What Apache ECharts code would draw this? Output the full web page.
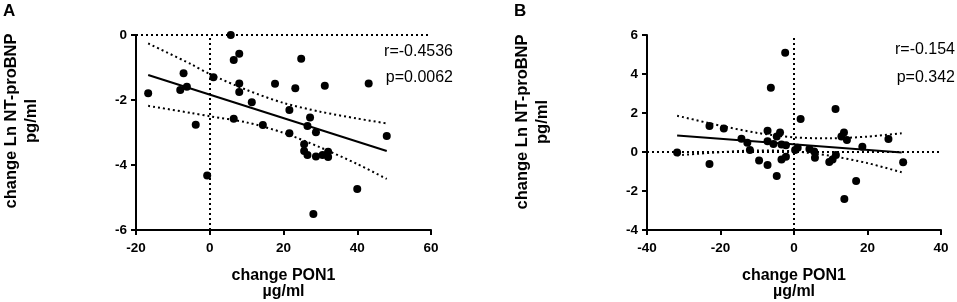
<!DOCTYPE html>
<html>
<head>
<meta charset="utf-8">
<script src="https://cdn.jsdelivr.net/npm/echarts@6/dist/echarts.min.js"></script>
<style>
  html, body { margin: 0; padding: 0; background: #fff; }
  #chart { width: 957px; height: 302px; }
</style>
</head>
<body>
<div id="chart"></div>
<script>
// panel A: change PON1 vs change Ln NT-proBNP
const pointsA = [
  [5.7, 0], [8.0, -0.58], [6.5, -0.77], [24.8, -0.73], [-7.1, -1.18], [1.0, -1.30],
  [8.0, -1.49], [17.7, -1.50], [23.2, -1.64], [31.2, -1.56], [43.1, -1.49], [-16.7, -1.79],
  [-8.0, -1.69], [-6.2, -1.59], [8.0, -1.75], [11.4, -2.07], [21.6, -2.31], [6.5, -2.58],
  [-3.8, -2.76], [14.4, -2.77], [27.2, -2.54], [26.5, -2.80], [21.6, -3.02], [28.8, -2.99],
  [48.0, -3.11], [25.6, -3.36], [25.6, -3.57], [26.5, -3.69], [28.8, -3.74], [30.6, -3.69],
  [32.1, -3.59], [32.1, -3.75], [-0.7, -4.32], [40.0, -4.74], [28.1, -5.51]
]
const fitA = [[-16.7, -1.23], [48.0, -3.57]]
const bandXA = [-16.7, -5, 0, 10, 20, 30, 40, 48]
const bandUpA = [-0.26, -0.90, -1.20, -1.69, -2.09, -2.36, -2.57, -2.72]
const bandLoA = [-2.18, -2.40, -2.50, -2.69, -3.01, -3.46, -3.97, -4.43]

// panel B
const pointsB = [
  [-2.4, 5.09], [-6.3, 3.30], [11.3, 2.21], [1.8, 1.69], [-23.0, 1.33], [-19.1, 1.20],
  [-7.2, 1.09], [-3.8, 1.0], [-4.7, 0.79], [13.6, 1.0], [12.9, 0.80], [14.4, 0.62],
  [25.7, 0.67], [-14.3, 0.68], [-12.7, 0.48], [-7.2, 0.55], [-5.6, 0.41], [-3.4, 0.38],
  [-2.2, 0.34], [-12.0, 0.10], [0.3, 0.10], [1.0, 0.22], [4.2, 0.15], [5.5, 0.02],
  [18.6, 0.27], [-31.8, -0.02], [5.7, -0.29], [11.4, -0.15], [10.5, -0.38], [9.6, -0.51],
  [-9.5, -0.44], [-3.4, -0.38], [-2.2, -0.24], [-23.0, -0.62], [-7.2, -0.67], [29.7, -0.53],
  [-4.7, -1.23], [16.9, -1.49], [13.7, -2.41]
]
const fitB = [[-31.8, 0.84], [29.3, -0.02]]
const bandXB = [-31.8, -20, -10, 0, 10, 20, 29.3]
const bandUpB = [1.86, 1.35, 0.98, 0.75, 0.70, 0.79, 0.96]
const bandLoB = [-0.17, -0.01, 0.08, 0.03, -0.20, -0.57, -1.04]

const statsA = ['r=-0.4536', 'p=0.0062']
const statsB = ['r=-0.154', 'p=0.342']

const FONT = 'Liberation Sans, Arial, sans-serif'
const zip = (xs, ys) => xs.map((x, i) => [x, ys[i]])

const chart = echarts.init(document.getElementById('chart'))

const axisCommon = {
  axisLine: { onZero: false, lineStyle: { color: '#000', width: 2 } },
  axisTick: { length: 5, lineStyle: { color: '#000', width: 2 } },
  axisLabel: { color: '#000', fontWeight: 'bold', fontSize: 13.5, fontFamily: FONT },
  splitLine: { show: false }
}

const dotted = { color: '#000', width: 2, type: [2, 3] }

const refLines = {
  silent: true, symbol: 'none', label: { show: false },
  lineStyle: dotted,
  data: [{ yAxis: 0 }, { xAxis: 0 }]
}

function panel(idx, points, fit, bx, up, lo) {
  return [
    {
      type: 'scatter', xAxisIndex: idx, yAxisIndex: idx, data: points,
      symbolSize: 8, itemStyle: { color: '#000', opacity: 1 }, z: 5,
      markLine: refLines
    },
    {
      type: 'line', xAxisIndex: idx, yAxisIndex: idx, data: fit,
      symbol: 'none', lineStyle: { color: '#000', width: 2 }
    },
    {
      type: 'line', xAxisIndex: idx, yAxisIndex: idx, data: zip(bx, up),
      symbol: 'none', smooth: 0.3, lineStyle: dotted
    },
    {
      type: 'line', xAxisIndex: idx, yAxisIndex: idx, data: zip(bx, lo),
      symbol: 'none', smooth: 0.3, lineStyle: dotted
    }
  ]
}

const xName = 'change PON1\nµg/ml'
const yName = 'change Ln NT-proBNP\npg/ml'
const nameStyle = { color: '#000', fontWeight: 'bold', fontSize: 16, fontFamily: FONT, lineHeight: 16 }

function label(text, x, y) {
  return {
    type: 'text', x, y,
    style: { text, fill: '#000', font: '16px ' + FONT, textAlign: 'right', textVerticalAlign: 'middle' }
  }
}

function yTitle(x, y) {
  return {
    type: 'text', x, y, rotation: Math.PI / 2,
    style: {
      text: yName, fill: '#000', font: 'bold 16.5px ' + FONT, lineHeight: 20,
      textAlign: 'center', textVerticalAlign: 'middle'
    }
  }
}

chart.setOption({
  animation: false,
  grid: [
    { left: 136, right: 526, top: 35, bottom: 72, outerBoundsMode: 'none' },
    { left: 647, right: 16, top: 35, bottom: 72, outerBoundsMode: 'none' }
  ],
  xAxis: [
    Object.assign({}, axisCommon, {
      gridIndex: 0, type: 'value', min: -20, max: 60, interval: 20,
      axisLabel: Object.assign({}, axisCommon.axisLabel, { margin: 11 }),
      name: xName, nameLocation: 'middle', nameGap: 38, nameTextStyle: nameStyle
    }),
    Object.assign({}, axisCommon, {
      gridIndex: 1, type: 'value', min: -40, max: 40, interval: 20,
      axisLabel: Object.assign({}, axisCommon.axisLabel, { margin: 11 }),
      name: xName, nameLocation: 'middle', nameGap: 38, nameTextStyle: nameStyle
    })
  ],
  yAxis: [
    Object.assign({}, axisCommon, {
      gridIndex: 0, type: 'value', min: -6, max: 0, interval: 2,
      axisLabel: Object.assign({}, axisCommon.axisLabel, { margin: 9 })
    }),
    Object.assign({}, axisCommon, {
      gridIndex: 1, type: 'value', min: -4, max: 6, interval: 2,
      axisLabel: Object.assign({}, axisCommon.axisLabel, { margin: 9 })
    })
  ],
  graphic: [
    { type: 'text', x: 3, y: 3, style: { text: 'A', fill: '#000', font: 'bold 17px ' + FONT } },
    { type: 'text', x: 514, y: 3, style: { text: 'B', fill: '#000', font: 'bold 17px ' + FONT } },
    yTitle(21, 121),
    yTitle(532, 122),
    label(statsA[0], 453, 52),
    label(statsA[1], 453, 78),
    label(statsB[0], 955, 50),
    label(statsB[1], 955, 78)
  ],
  series: [
    ...panel(0, pointsA, fitA, bandXA, bandUpA, bandLoA),
    ...panel(1, pointsB, fitB, bandXB, bandUpB, bandLoB)
  ]
})
</script>
</body>
</html>
